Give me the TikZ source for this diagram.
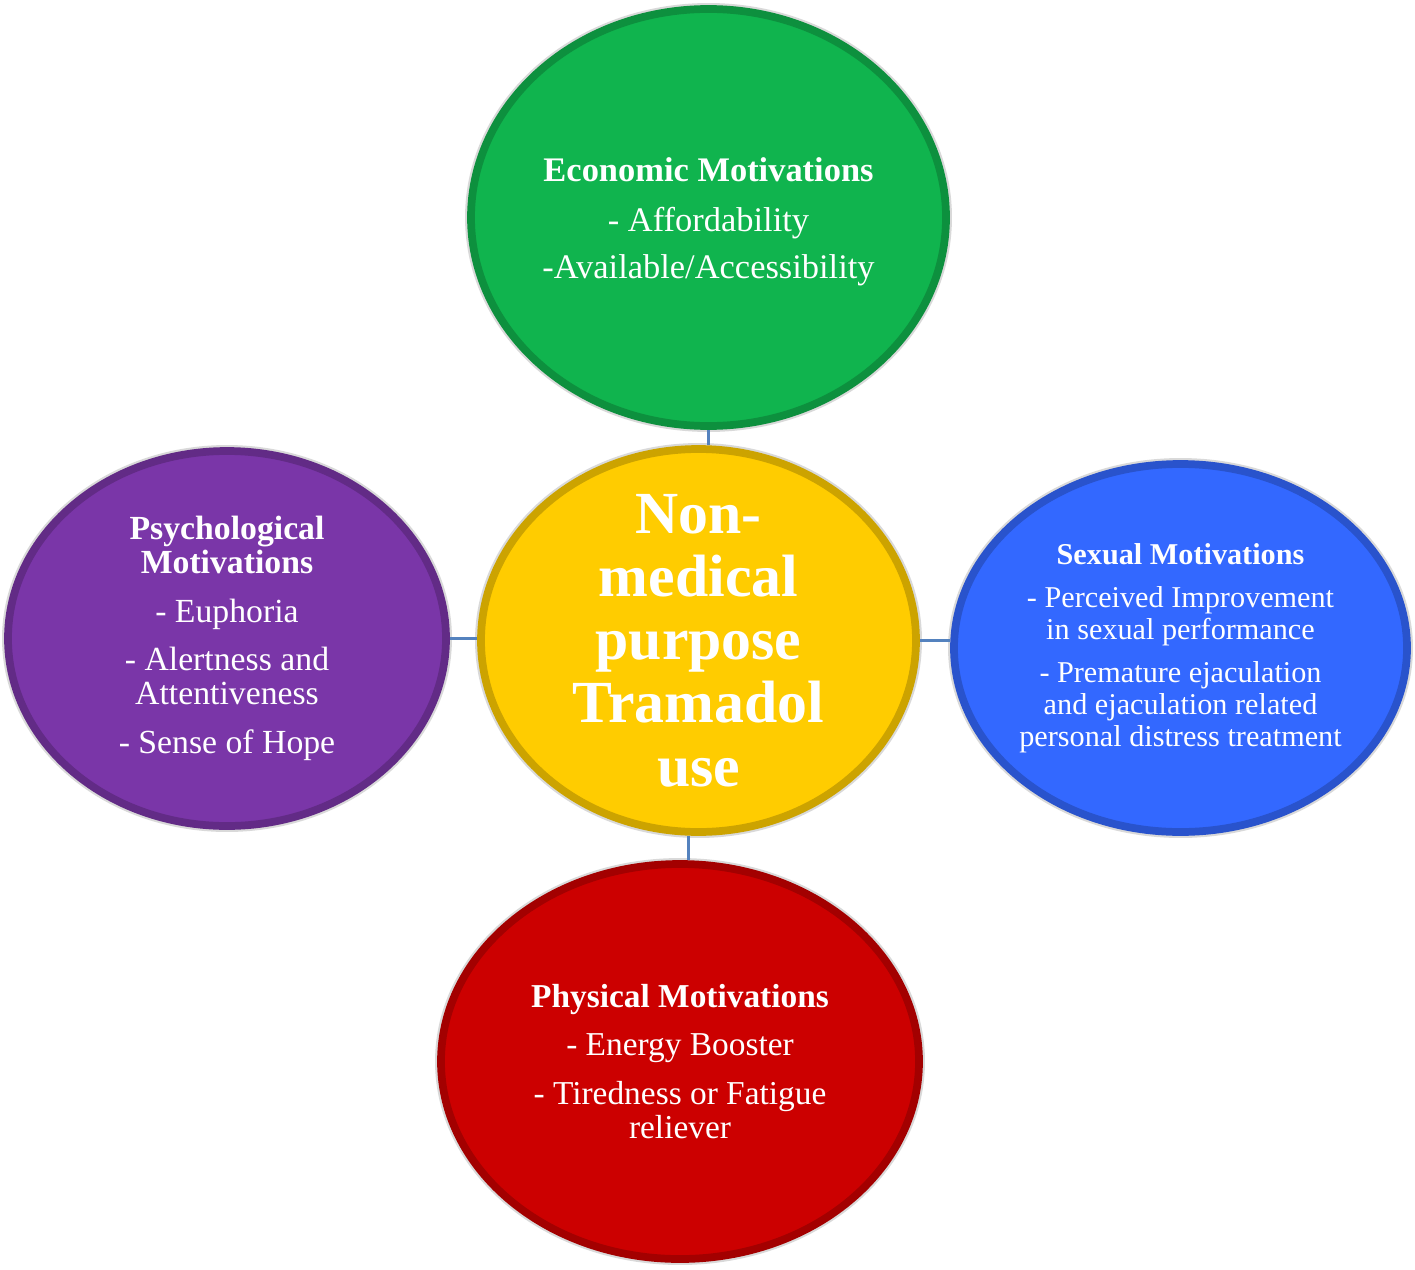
\documentclass[tikz,border=0pt]{standalone}
\usepackage{fontspec}
\setmainfont{Liberation Serif}
\usetikzlibrary{shapes.geometric}
\definecolor{econgreen}{RGB}{16,180,78}
\definecolor{coreyellow}{RGB}{255,204,0}
\definecolor{psychpurple}{RGB}{122,54,168}
\definecolor{sexblue}{RGB}{51,104,255}
\definecolor{physred}{RGB}{204,0,0}
\definecolor{linkblue}{RGB}{84,130,190}

\begin{document}
\begin{tikzpicture}[
    bubble/.style={ellipse, fill=#1, draw=#1!80!black, line width=2.2pt,
                   preaction={draw=gray!30, line width=3.4pt}, inner sep=0pt},
    caption/.style={text=white, align=center, inner sep=0pt},
    link/.style={draw=linkblue, line width=1pt}]
  \useasboundingbox (0,0) rectangle (14.15,12.69);

  \node [bubble=econgreen,   minimum width=4.75cm, minimum height=4.17cm] (econ)   at (7.085,10.515) {};
  \node [bubble=psychpurple, minimum width=4.38cm, minimum height=3.75cm] (psych)  at (2.27,6.305)   {};
  \node [bubble=coreyellow,  minimum width=4.35cm, minimum height=3.83cm] (core)   at (6.985,6.285)  {};
  \node [bubble=sexblue,     minimum width=4.53cm, minimum height=3.68cm] (sexual) at (11.805,6.21)  {};
  \node [bubble=physred,     minimum width=4.78cm, minimum height=3.95cm] (phys)   at (6.80,2.075)   {};

  \draw [link] (econ.south) -- (econ.south |- core.north);
  \draw [link] (psych.east) -- (psych.east -| core.west);
  \draw [link] (core.east)  -- (core.east -| sexual.west);
  \draw [link] (core.-93)   -- (core.-93 |- phys.north);

  \node [caption, font=\fontsize{9.8}{9.8}\selectfont, yshift=-0.045cm] (econtext) at (econ) {%
    \textbf{Economic Motivations}\\[4.3pt]
    - Affordability\\[3.6pt]
    -Available/Accessibility};
  \node [caption, font=\fontsize{9.6}{9.7}\selectfont] (psychtext) at (psych) {%
    \textbf{Psychological}\\
    \textbf{Motivations}\\[4.2pt]
    - Euphoria\\[4pt]
    - Alertness and\\
    Attentiveness\\[4.2pt]
    - Sense of Hope};
  \node [caption, font=\fontsize{17}{18}\selectfont\bfseries] (coretext) at (core) {%
    Non-\\ medical\\ purpose\\ Tramadol\\ use};
  \node [caption, font=\fontsize{8.6}{9.1}\selectfont] (sextext) at (sexual) {%
    \textbf{Sexual Motivations}\\[3.2pt]
    - Perceived Improvement\\
    in sexual performance\\[3.2pt]
    - Premature ejaculation\\
    and ejaculation related\\
    personal distress treatment};
  \node [caption, font=\fontsize{9.5}{9.7}\selectfont] (phystext) at (phys) {%
    \textbf{Physical Motivations}\\[4pt]
    - Energy Booster\\[4pt]
    - Tiredness or Fatigue\\
    reliever};
\end{tikzpicture}
\end{document}
